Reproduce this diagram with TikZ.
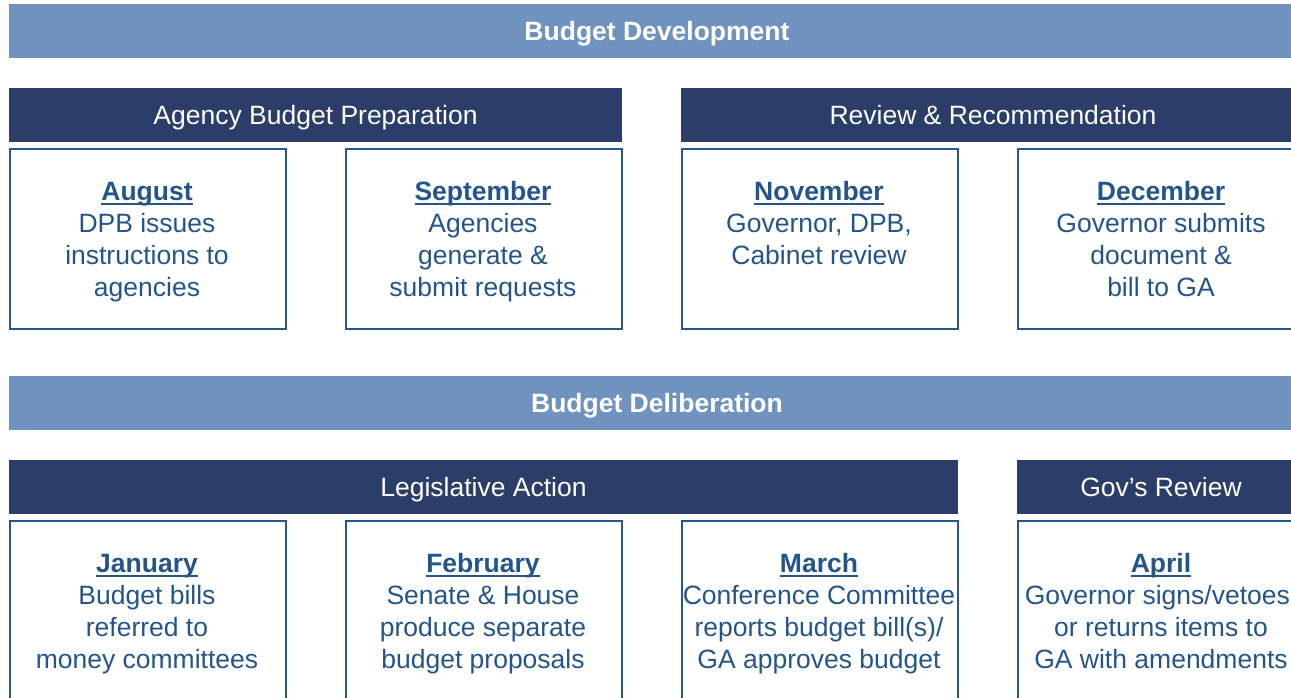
\documentclass[tikz,border=0pt]{standalone}
\usepackage{fontspec}
\setmainfont{Liberation Sans}
\definecolor{lightbar}{RGB}{112,146,190}
\definecolor{darkbar}{RGB}{43,62,105}
\definecolor{boxline}{RGB}{36,88,144}
\definecolor{txt}{RGB}{36,85,138}
\newcommand\mon[1]{\setbox0\hbox{\bfseries #1}\rlap{\rule[-5pt]{\wd0}{2.2pt}}\box0}
\newcommand\lns[1]{\begin{tabular}[t]{@{}c@{}}#1\end{tabular}}
\tikzset{
  mainbar/.style={fill=lightbar, draw=none, rectangle, anchor=north west, minimum height=53.5pt, inner sep=0},
  subbar/.style={fill=darkbar, draw=none, rectangle, anchor=north west, minimum height=53.5pt, inner sep=0},
  stagebox/.style={draw=boxline, line width=1.9pt, fill=none, rectangle, anchor=north west, inner sep=0},
  maintitle/.style={text=white, font=\fontsize{26.5}{32}\selectfont\bfseries, anchor=base, inner sep=0},
  subtitle/.style={text=white, font=\fontsize{26.5}{32}\selectfont, anchor=base, inner sep=0},
  boxtext/.style={text=txt, font=\fontsize{26.5}{32}\selectfont, anchor=base, inner sep=0},
}
\begin{document}
\begin{tikzpicture}[x=1pt,y=-1pt]
\useasboundingbox (0,0) rectangle (1291,697);
\clip (0,0) rectangle (1291,697);
% ---- Budget Development ----
\node[mainbar, minimum width=1296pt] (devbar) at (9,4) {};
\node[maintitle] (devtitle) at (657,40) {Budget Development};
\node[subbar, minimum width=613pt] (prepbar) at (9,88) {};
\node[subtitle] (preptitle) at (315.5,124) {Agency Budget Preparation};
\node[subbar, minimum width=624pt] (revbar) at (681,88) {};
\node[subtitle] (revtitle) at (993,124) {Review \& Recommendation};
\node[stagebox, minimum width=275.5pt, minimum height=179.5pt] (augbox) at (9.3,148.3) {};
\node[stagebox, minimum width=275.5pt, minimum height=179.5pt] (sepbox) at (345.3,148.3) {};
\node[stagebox, minimum width=275.5pt, minimum height=179.5pt] (novbox) at (681.3,148.3) {};
\node[stagebox, minimum width=288pt, minimum height=179.5pt] (decbox) at (1017.3,148.3) {};
\node[boxtext] (augtext) at (147,200) {\lns{\mon{August}\\DPB issues\\instructions to\\agencies}};
\node[boxtext] (septext) at (483,200) {\lns{\mon{September}\\Agencies\\generate \&\\submit requests}};
\node[boxtext] (novtext) at (819,200) {\lns{\mon{November}\\Governor, DPB,\\Cabinet review}};
\node[boxtext] (dectext) at (1161,200) {\lns{\mon{December}\\Governor submits\\document \&\\bill to GA}};
% ---- Budget Deliberation ----
\node[mainbar, minimum width=1296pt] (delbar) at (9,376) {};
\node[maintitle] (deltitle) at (657,412) {Budget Deliberation};
\node[subbar, minimum width=949pt] (legbar) at (9,460) {};
\node[subtitle] (legtitle) at (483.5,496) {Legislative Action};
\node[subbar, minimum width=288pt] (govbar) at (1017,460) {};
\node[subtitle] (govtitle) at (1161,496) {Gov’s Review};
\node[stagebox, minimum width=275.5pt, minimum height=190pt] (janbox) at (9.3,520.3) {};
\node[stagebox, minimum width=275.5pt, minimum height=190pt] (febbox) at (345.3,520.3) {};
\node[stagebox, minimum width=275.5pt, minimum height=190pt] (marbox) at (681.3,520.3) {};
\node[stagebox, minimum width=288pt, minimum height=190pt] (aprbox) at (1017.3,520.3) {};
\node[boxtext] (jantext) at (147,572) {\lns{\mon{January}\\Budget bills\\referred to\\money committees}};
\node[boxtext] (febtext) at (483,572) {\lns{\mon{February}\\Senate \& House\\produce separate\\budget proposals}};
\node[boxtext] (martext) at (819,572) {\lns{\mon{March}\\Conference Committee\\reports budget bill(s)/\\GA approves budget}};
\node[boxtext] (aprtext) at (1161,572) {\lns{\mon{April}\\Governor signs/vetoes,\\or returns items to\\GA with amendments}};
\end{tikzpicture}
\end{document}
